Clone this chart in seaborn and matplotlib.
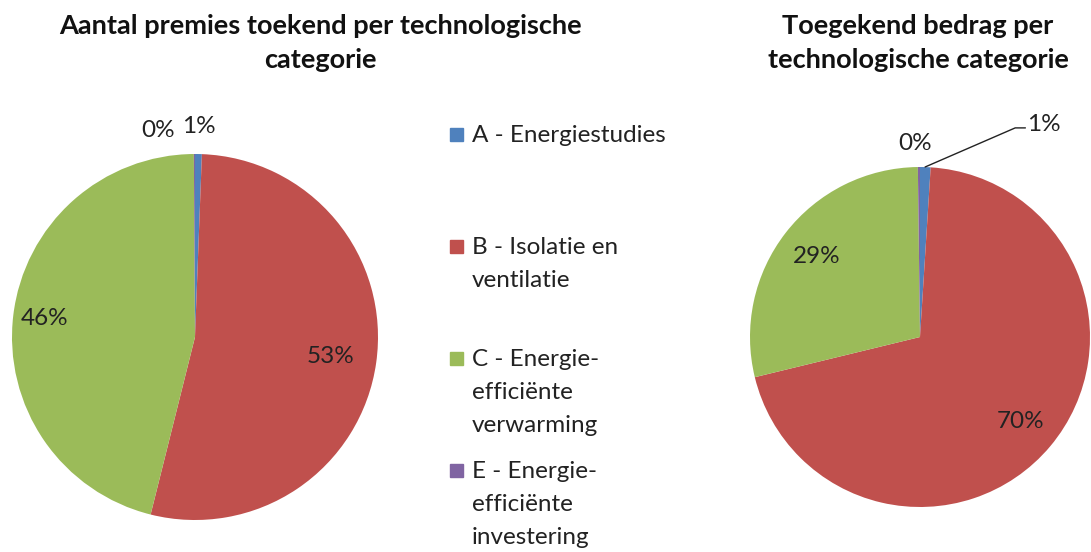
import numpy as np
import matplotlib.pyplot as plt
import seaborn as sns

sns.set_theme(style="white")
plt.rcParams['font.family'] = ['Lato', 'DejaVu Sans']

# Data
categories = ["A - Energiestudies", "B - Isolatie en\nventilatie",
              "C - Energie-\nefficiënte\nverwarming", "E - Energie-\nefficiënte\ninvestering"]
aantal = [0.6, 53.3, 46.0, 0.1]
bedrag = [1.0, 70.2, 28.6, 0.2]
colors = ["#4F81BD", "#C0504D", "#9BBB59", "#8064A2"]

title_left = "Aantal premies toekend per technologische\ncategorie"
title_right = "Toegekend bedrag per\ntechnologische categorie"

FS = 17.5
TFS = 19.5
TXT = "#222222"

fig = plt.figure(figsize=(10.91, 5.52), dpi=100)

def pie_labels(ax, vals, dists, offsets):
    total = sum(vals)
    cum = 0
    for v, d, off in zip(vals, dists, offsets):
        mid = (cum + v / 2) / total * 2 * np.pi
        cum += v
        x, y = d * np.sin(mid) + off[0], d * np.cos(mid) + off[1]
        ax.text(x, y, f"{v / total * 100:.0f}%", ha="center", va="center",
                fontsize=FS, color=TXT)

# Left pie
ax1 = fig.add_axes([12 / 1091, 32 / 552, 366 / 1091, 366 / 552])
ax1.pie(aantal, colors=colors, startangle=90, counterclock=False,
        radius=1, wedgeprops=dict(linewidth=0))
pie_labels(ax1, aantal, [1.15, 0.75, 0.83, 1.13], [(0.0, 0), (0, 0), (0, 0), (-0.2, 0)])
ax1.set_xlim(-1, 1); ax1.set_ylim(-1, 1); ax1.set_aspect("equal")
ax1.axis("off")

# Right pie
ax2 = fig.add_axes([750 / 1091, 45 / 552, 340 / 1091, 340 / 552])
ax2.pie(bedrag, colors=colors, startangle=90, counterclock=False,
        radius=1, wedgeprops=dict(linewidth=0))
total = sum(bedrag)
ax2.plot([0.03, 0.56, 0.62], [1.0, 1.23, 1.23], color=TXT, lw=1, clip_on=False)
ax2.text(0.63, 1.25, f"{bedrag[0] / total * 100:.0f}%", ha="left", va="center",
         fontsize=FS, color=TXT)
ax2.text(-0.03, 1.14, f"{bedrag[3] / total * 100:.0f}%", ha="center", va="center",
         fontsize=FS, color=TXT)
cum = bedrag[0]
for v in bedrag[1:3]:
    mid = (cum + v / 2) / total * 2 * np.pi
    cum += v
    ax2.text(0.77 * np.sin(mid), 0.77 * np.cos(mid), f"{v / total * 100:.0f}%",
             ha="center", va="center", fontsize=FS, color=TXT)
ax2.set_xlim(-1, 1); ax2.set_ylim(-1, 1); ax2.set_aspect("equal")
ax2.axis("off")

# Titles
fig.text(320 / 1091, 1 - 43 / 552, title_left, ha="center", va="center",
         fontsize=TFS, fontweight="bold", color="#111111", linespacing=1.55)
fig.text(918 / 1091, 1 - 43 / 552, title_right, ha="center", va="center",
         fontsize=TFS, fontweight="bold", color="#111111", linespacing=1.55)

# Legend drawn manually
for i, (lab, c) in enumerate(zip(categories, colors)):
    yc = 134.5 + i * 112
    fig.patches.append(plt.Rectangle((450 / 1091, 1 - (yc + 6.5) / 552), 13 / 1091, 13 / 552,
                                     transform=fig.transFigure, color=c))
    fig.text(472 / 1091, 1 - (yc - 9) / 552, lab, ha="left", va="top",
             fontsize=FS, color=TXT, linespacing=1.7)

fig.savefig("out.png", dpi=100)
